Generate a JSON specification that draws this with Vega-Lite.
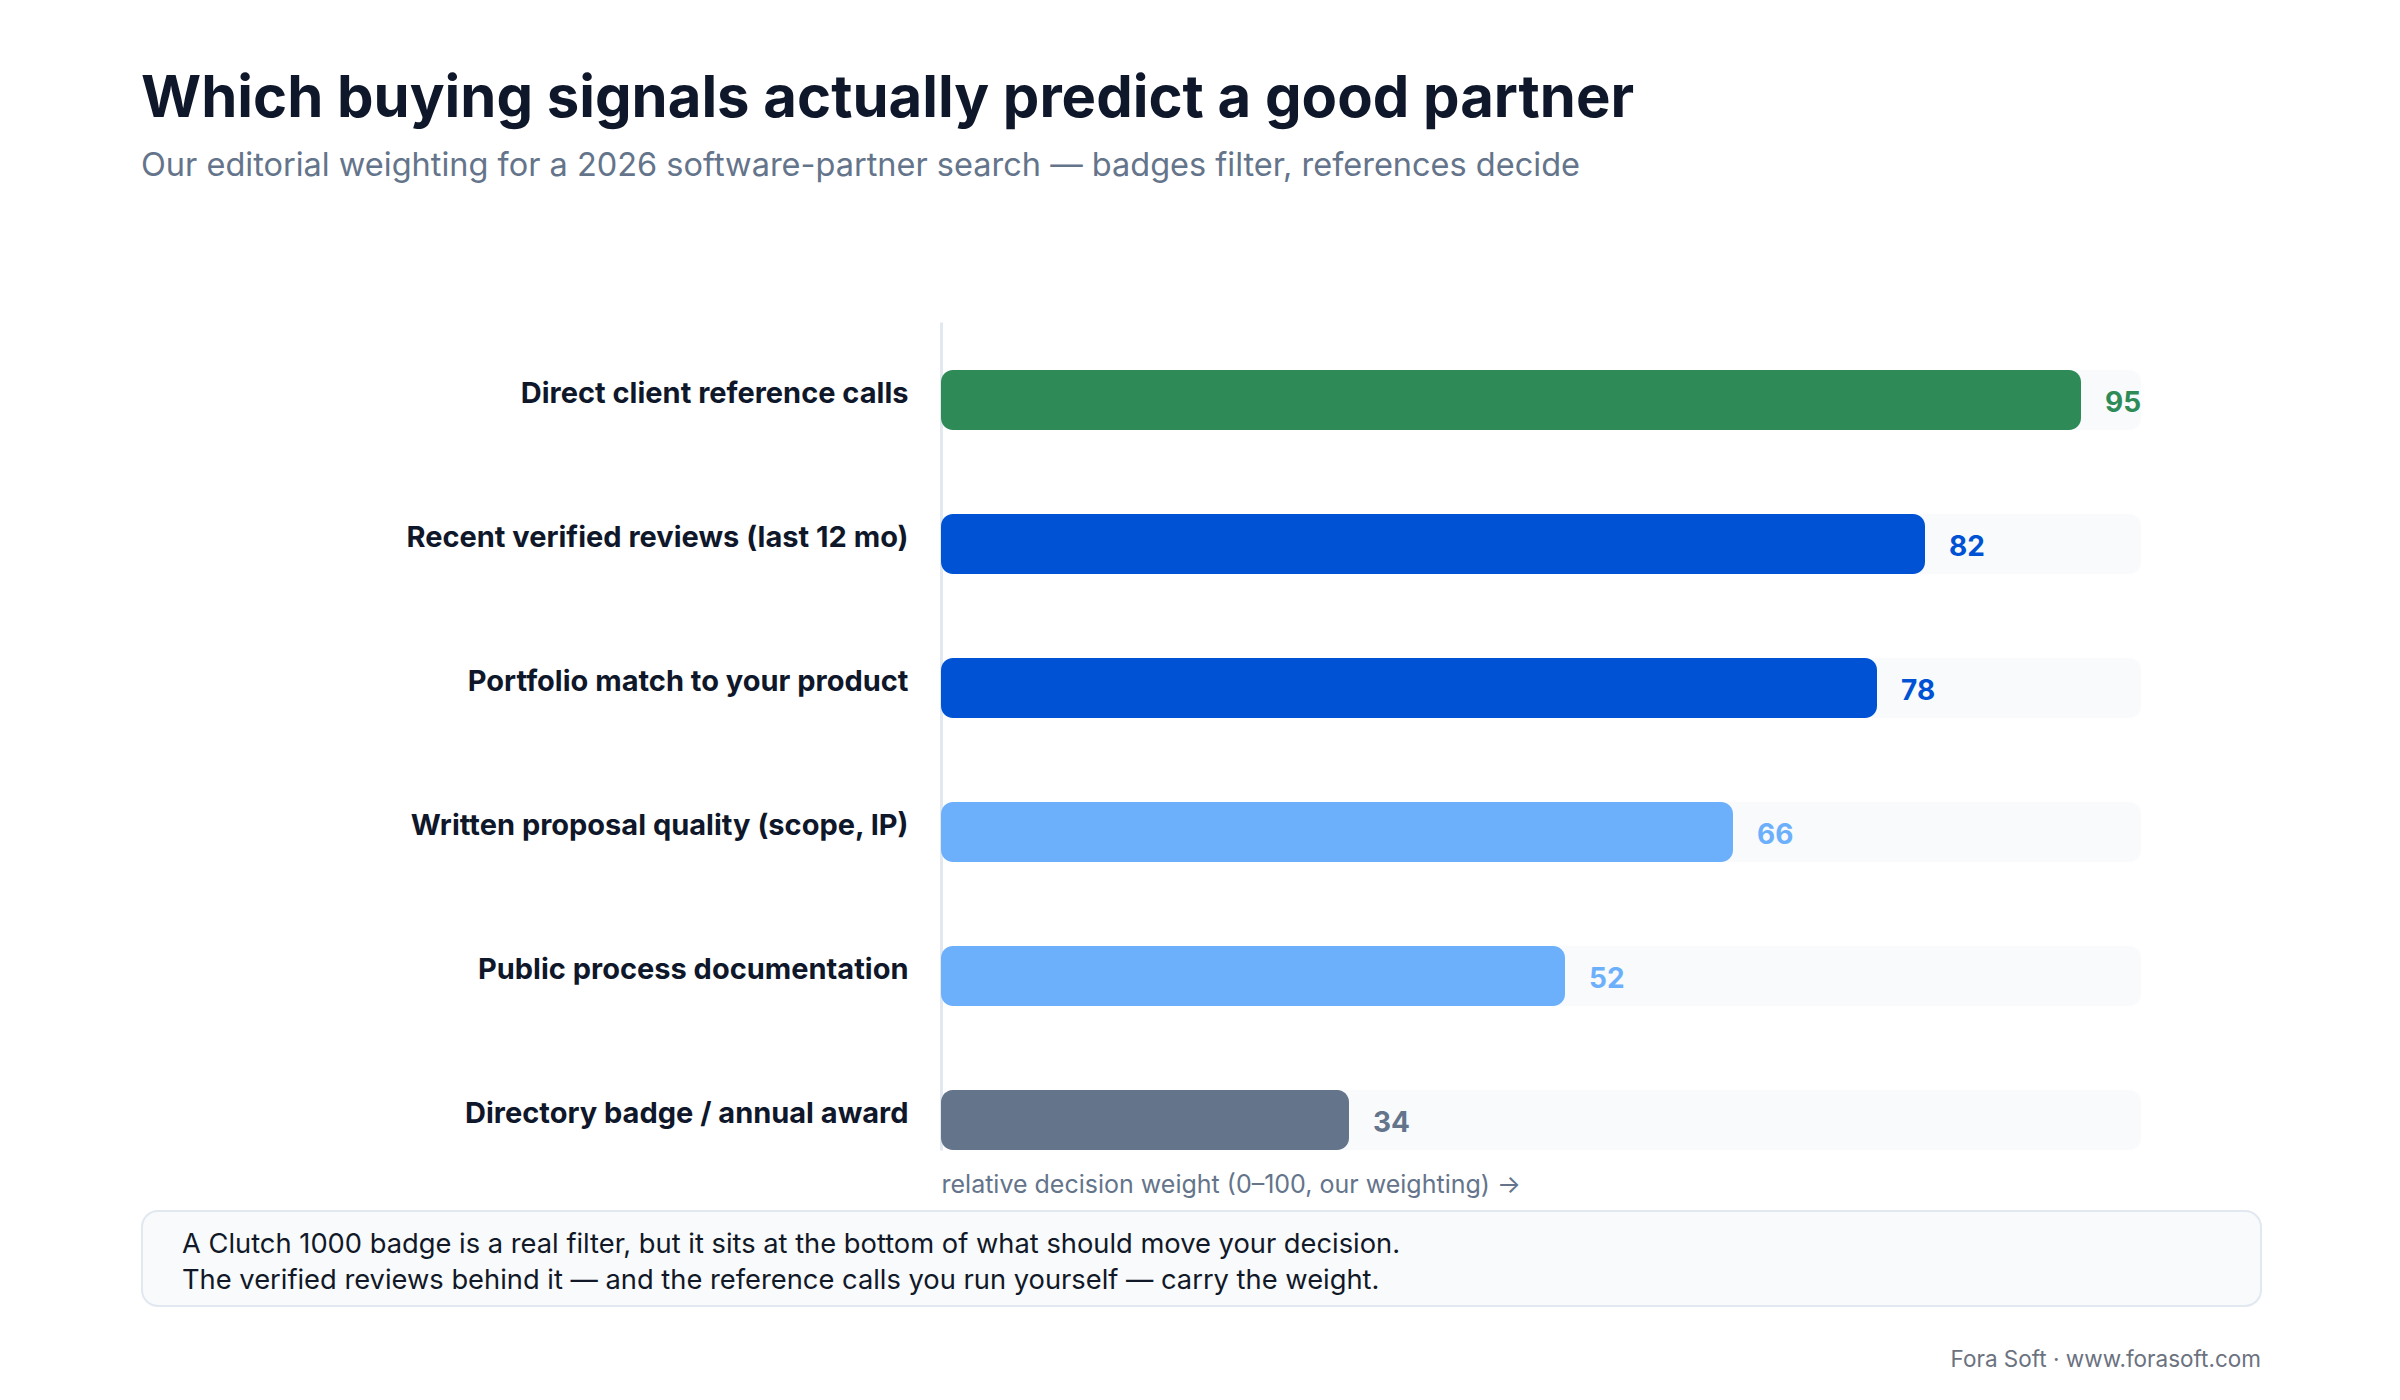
{
  "$schema": "https://vega.github.io/schema/vega-lite/v6.json",
  "background": "#ffffff",
  "padding": {"left": 141, "top": 70, "right": 20, "bottom": 20},
  "config": {
    "font": "Inter",
    "view": {"stroke": null},
    "concat": {"spacing": 13}
  },
  "title": {
    "text": "Which buying signals actually predict a good partner",
    "subtitle": "Our editorial weighting for a 2026 software-partner search — badges filter, references decide",
    "anchor": "start",
    "font": "Inter",
    "fontSize": 58,
    "fontWeight": 700,
    "color": "#0f172a",
    "subtitleFont": "Inter",
    "subtitleFontSize": 32.5,
    "subtitleColor": "#64748b",
    "subtitlePadding": 21,
    "offset": 140
  },
  "datasets": {
    "signals": [
      {"signal": "Direct client reference calls", "weight": 95, "tier": "decisive"},
      {"signal": "Recent verified reviews (last 12 mo)", "weight": 82, "tier": "strong"},
      {"signal": "Portfolio match to your product", "weight": 78, "tier": "strong"},
      {"signal": "Written proposal quality (scope, IP)", "weight": 66, "tier": "supporting"},
      {"signal": "Public process documentation", "weight": 52, "tier": "supporting"},
      {"signal": "Directory badge / annual award", "weight": 34, "tier": "filter"}
    ],
    "note": [
      {"line": 1, "text": "A Clutch 1000 badge is a real filter, but it sits at the bottom of what should move your decision."},
      {"line": 2, "text": "The verified reviews behind it — and the reference calls you run yourself — carry the weight."}
    ]
  },
  "vconcat": [
    {
      "width": 2119,
      "height": 828,
      "data": {"name": "signals"},
      "encoding": {
        "y": {
          "field": "signal",
          "type": "nominal",
          "sort": null,
          "scale": {"paddingInner": 0.5833, "paddingOuter": 0.1667, "align": 1},
          "axis": {
            "title": null,
            "offset": -799,
            "domain": true,
            "domainColor": "#e2e8f0",
            "domainWidth": 3,
            "ticks": false,
            "tickSize": 0,
            "grid": false,
            "labelFont": "Inter",
            "labelFontSize": 29,
            "labelFontWeight": 700,
            "labelColor": "#0f172a",
            "labelPadding": 33,
            "labelOffset": -6,
            "labelLimit": 780
          }
        }
      },
      "layer": [
        {
          "mark": {"type": "bar", "color": "#f8fafc", "cornerRadius": 12},
          "encoding": {
            "x": {
              "datum": 100,
              "type": "quantitative",
              "scale": {"domain": [0, 100], "range": [799, 1999], "nice": false, "zero": true},
              "axis": {
                "title": "relative decision weight (0–100, our weighting) →",
                "titleFont": "Inter",
                "titleFontSize": 25,
                "titleFontWeight": 400,
                "titleColor": "#64748b",
                "titleAnchor": "start",
                "titleAlign": "left",
                "titlePadding": 22,
                "domain": false,
                "ticks": false,
                "labels": false,
                "grid": false
              }
            }
          }
        },
        {
          "mark": {"type": "bar", "cornerRadius": 12},
          "encoding": {
            "x": {"field": "weight", "type": "quantitative"},
            "color": {
              "field": "tier",
              "type": "nominal",
              "scale": {
                "domain": ["decisive", "strong", "supporting", "filter"],
                "range": ["#2e8b57", "#0052d4", "#6cb0fc", "#64748b"]
              },
              "legend": null
            }
          }
        },
        {
          "mark": {"type": "text", "align": "left", "baseline": "middle", "dx": 24, "dy": 4, "font": "Inter", "fontSize": 28, "fontWeight": 700},
          "encoding": {
            "x": {"field": "weight", "type": "quantitative"},
            "text": {"field": "weight", "type": "quantitative"},
            "color": {"field": "tier", "type": "nominal", "legend": null}
          }
        }
      ]
    },
    {
      "width": 2119,
      "height": 95,
      "data": {"name": "note"},
      "view": {"fill": "#f8fafc", "stroke": "#e2e8f0", "strokeWidth": 2, "cornerRadius": 16},
      "title": {
        "text": "Fora Soft · www.forasoft.com",
        "orient": "bottom",
        "anchor": "end",
        "font": "Inter",
        "fontSize": 22.5,
        "fontWeight": 400,
        "color": "#6b7280",
        "offset": 43
      },
      "mark": {"type": "text", "align": "left", "baseline": "middle", "font": "Inter", "fontSize": 27.3, "color": "#111827", "x": 40, "dy": 4.5},
      "encoding": {
        "y": {"field": "line", "type": "ordinal", "scale": {"type": "point", "padding": 0.784}, "axis": null},
        "text": {"field": "text", "type": "nominal"}
      }
    }
  ]
}
